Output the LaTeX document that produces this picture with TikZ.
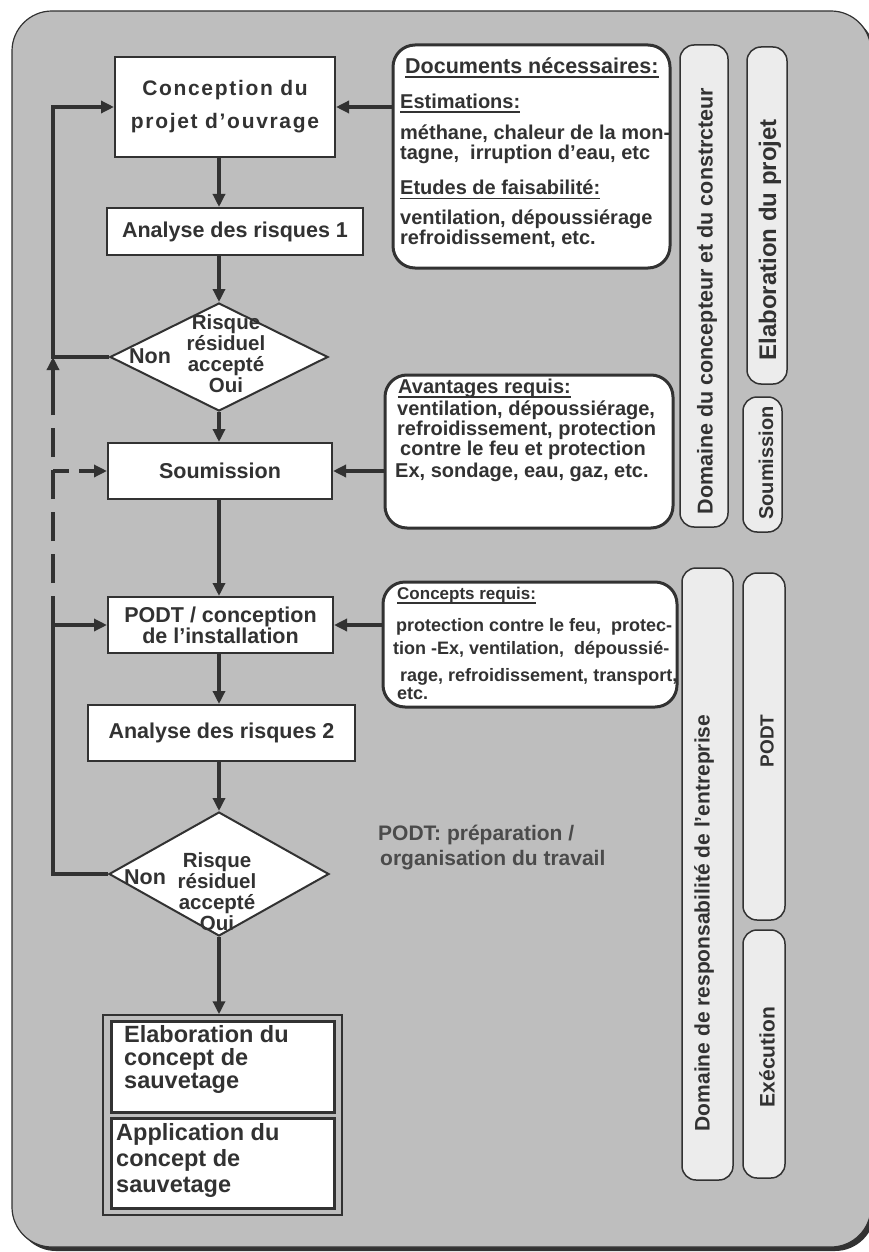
\documentclass[tikz,border=0pt]{standalone}
\usepackage{fontspec}
\setmainfont{Liberation Sans}
\usetikzlibrary{arrows.meta,shapes.geometric}
\definecolor{bgc}{RGB}{190,190,190}
\definecolor{pillc}{RGB}{236,236,236}
\definecolor{ink}{RGB}{50,50,50}
\definecolor{note}{RGB}{75,75,75}
\newcommand\myul[1]{\setbox0\hbox{#1}\rlap{\vrule height -2.5pt depth 4.5pt width \wd0}\box0}
\begin{document}
\begin{tikzpicture}[x=1pt,y=-1pt,
  font=\bfseries\fontsize{21.5}{23}\selectfont, text=ink,
  box/.style={draw=ink,line width=2pt,fill=white,inner sep=0pt},
  dia/.style={draw=ink,line width=2pt,fill=white,shape=diamond,inner sep=0pt},
  rbox/.style={draw=ink,line width=3pt,fill=white,rounded corners=22pt,inner sep=0pt},
  pill/.style={draw=ink,line width=1.5pt,fill=pillc,rounded corners=14pt,inner sep=0pt},
  arr/.style={draw=ink,line width=3.5pt,-{Triangle[length=13pt,width=12pt]}},
  ln/.style={draw=ink,line width=3.5pt},
  lt/.style={anchor=base west,inner sep=0pt},
  vt/.style={rotate=90,inner sep=0pt},
  rt/.style={font=\bfseries\fontsize{20}{20}\selectfont},
  ct/.style={font=\bfseries\fontsize{18}{20}\selectfont},
  dt/.style={align=center,inner sep=0pt,font=\bfseries\fontsize{20.5}{21}\selectfont},
  bt/.style={anchor=west,align=left,inner sep=0pt},
]
\useasboundingbox (0,0) rectangle (869,1252);
\fill[white] (0,0) rectangle (869,1252);
\fill[ink,rounded corners=40pt] (16,15) rectangle (875,1251);
\filldraw[fill=bgc,draw=ink,line width=1.2pt,rounded corners=40pt] (12,11) rectangle (871,1247);

% pills
\node[pill,minimum width=48pt,minimum height=482pt] (p1) at (704,286) {};
\node[pill,minimum width=40pt,minimum height=337pt] (p2) at (767,215.5) {};
\node[pill,minimum width=39pt,minimum height=135pt] (p3) at (762.5,464.5) {};
\node[pill,minimum width=51pt,minimum height=612pt] (p4) at (707.5,874) {};
\node[pill,minimum width=42pt,minimum height=347pt] (p5) at (764,746.5) {};
\node[pill,minimum width=42pt,minimum height=248pt] (p6) at (764,1054) {};
\node[vt] (pt1) at (707,301) {Domaine du concepteur et du constrcteur};
\node[vt,font=\bfseries\fontsize{24}{24}\selectfont] (pt2) at (770,240) {Elaboration du projet};
\node[vt,font=\bfseries\fontsize{20}{20}\selectfont] (pt3) at (766,463) {Soumission};
\node[vt,font=\bfseries\fontsize{21}{21}\selectfont] (pt4) at (704,923) {Domaine de responsabilité de l'entreprise};
\node[vt,font=\bfseries\fontsize{19}{19}\selectfont] (pt5) at (767,741) {PODT};
\node[vt,font=\bfseries\fontsize{21}{21}\selectfont] (pt6) at (767,1057) {Exécution};

% main flow
\node[box,minimum width=220pt,minimum height=100pt,align=center,font=\bfseries\fontsize{21}{21}\selectfont\addfontfeature{LetterSpace=8}] (conc) at (225,107) {Conception du\\[12pt]projet d'ouvrage};
\node[box,minimum width=256pt,minimum height=47pt] (an1) at (235,231.5) {Analyse des risques 1};
\node[dia,minimum width=218pt,minimum height=108pt] (d1) at (219,357) {};
\node[dt] (t1) at (226,354) {Risque\\résiduel\\accepté\\Oui};
\node[inner sep=0pt] (n1) at (150,356) {Non};
\node[box,minimum width=224pt,minimum height=56pt] (soum) at (220,471) {Soumission};
\node[box,minimum width=225pt,minimum height=56pt,align=center,font=\bfseries\fontsize{21.5}{20}\selectfont] (podt) at (220.5,625) {PODT / conception\\de l'installation};
\node[box,minimum width=267pt,minimum height=56pt] (an2) at (221.5,733) {Analyse des risques 2};
\node[dia,minimum width=220pt,minimum height=124pt] (d2) at (219,874) {};
\node[dt] (t2) at (217,892) {Risque\\résiduel\\accepté\\Oui};
\node[inner sep=0pt] (n2) at (145,877) {Non};
\node[draw=ink,line width=1.5pt,minimum width=239pt,minimum height=200pt,inner sep=0pt] (fin) at (222.5,1115) {};
\node[draw=ink,line width=3pt,fill=white,minimum width=223pt,minimum height=91pt,inner sep=0pt] (elab) at (222.5,1066.5) {};
\node[draw=ink,line width=3pt,fill=white,minimum width=223pt,minimum height=90pt,inner sep=0pt] (appl) at (222.5,1163) {};
\node[bt,font=\bfseries\fontsize{23.5}{23}\selectfont] (et) at (124,1059) {Elaboration du\\concept de\\sauvetage};
\node[bt,font=\bfseries\fontsize{23.5}{26}\selectfont] (at) at (116,1160) {Application du\\concept de\\sauvetage};

% right boxes
\node[rbox,minimum width=277pt,minimum height=223pt] (docs) at (531.5,156.5) {};
\node[rbox,minimum width=288pt,minimum height=153pt] (avan) at (529,451.5) {};
\node[rbox,minimum width=294pt,minimum height=125pt] (cpts) at (530,644.5) {};

\node[lt,font=\bfseries\fontsize{21.5}{20}\selectfont] (r1) at (405,74) {\myul{Documents nécessaires:}};
\node[lt,rt] (r2) at (400,109) {\myul{Estimations:}};
\node[lt,rt] (r3) at (400,140) {méthane, chaleur de la mon-};
\node[lt,rt] (r4) at (400,160) {tagne,~~irruption d'eau, etc};
\node[lt,rt] (r5) at (400,195) {\myul{Etudes de faisabilité:}};
\node[lt,rt] (r6) at (400,224) {ventilation, dépoussiérage};
\node[lt,rt] (r7) at (400,244) {refroidissement, etc.};

\node[lt,rt] (a1) at (398,393) {\myul{Avantages requis:}};
\node[lt,rt] (a2) at (397,415) {ventilation, dépoussiérage,};
\node[lt,rt] (a3) at (397,435) {refroidissement, protection};
\node[lt,rt] (a4) at (400,455) {contre le feu et protection};
\node[lt,rt] (a5) at (395,477) {Ex, sondage, eau, gaz, etc.};

\node[lt,font=\bfseries\fontsize{17}{20}\selectfont] (c1) at (397,599) {\myul{Concepts requis:}};
\node[lt,ct] (c2) at (396,631) {protection contre le feu,~~protec-};
\node[lt,ct] (c3) at (393,654) {tion -Ex, ventilation,~~dépoussié-};
\node[lt,ct] (c4) at (400,681) {rage, refroidissement, transport,};
\node[lt,ct] (c5) at (397,699) {etc.};

\node[lt,text=note,font=\bfseries\fontsize{21}{21}\selectfont] (m1) at (378,840) {PODT: préparation /};
\node[lt,text=note,font=\bfseries\fontsize{21}{21}\selectfont] (m2) at (380,865) {organisation du travail};

% connectors
\draw[arr] (conc.south -| d1.north) -- (an1.north -| d1.north);
\draw[arr] (an1.south -| d1.north) -- (d1.north);
\draw[arr] (d1.south) -- (soum.north -| d1.south);
\draw[arr] (soum.south -| d1.south) -- (podt.north -| d1.south);
\draw[arr] (podt.south -| d1.south) -- (an2.north -| d1.south);
\draw[arr] (an2.south -| d2.north) -- (d2.north);
\draw[arr] (d2.south) -- (fin.north -| d2.south);

\coordinate (lx) at (53,0);
\coordinate (dtop) at (53,397);
\draw[arr] (d1.west) -| (lx |- conc.west) -- (conc.west);
\draw[arr] (d2.west) -| (lx |- podt.west) -- (podt.west);
\draw[ln,dash pattern=on 29pt off 13pt] (lx |- podt.west) -- (dtop);
\draw[arr] (dtop) -- (lx |- d1.west);
\draw[arr,dash pattern=on 16pt off 10pt] (lx |- soum.west) -- (soum.west);

\draw[arr] (docs.west |- conc.east) -- (conc.east);
\draw[arr] (avan.west |- soum.east) -- (soum.east);
\draw[arr] (cpts.west |- podt.east) -- (podt.east);
\end{tikzpicture}
\end{document}
